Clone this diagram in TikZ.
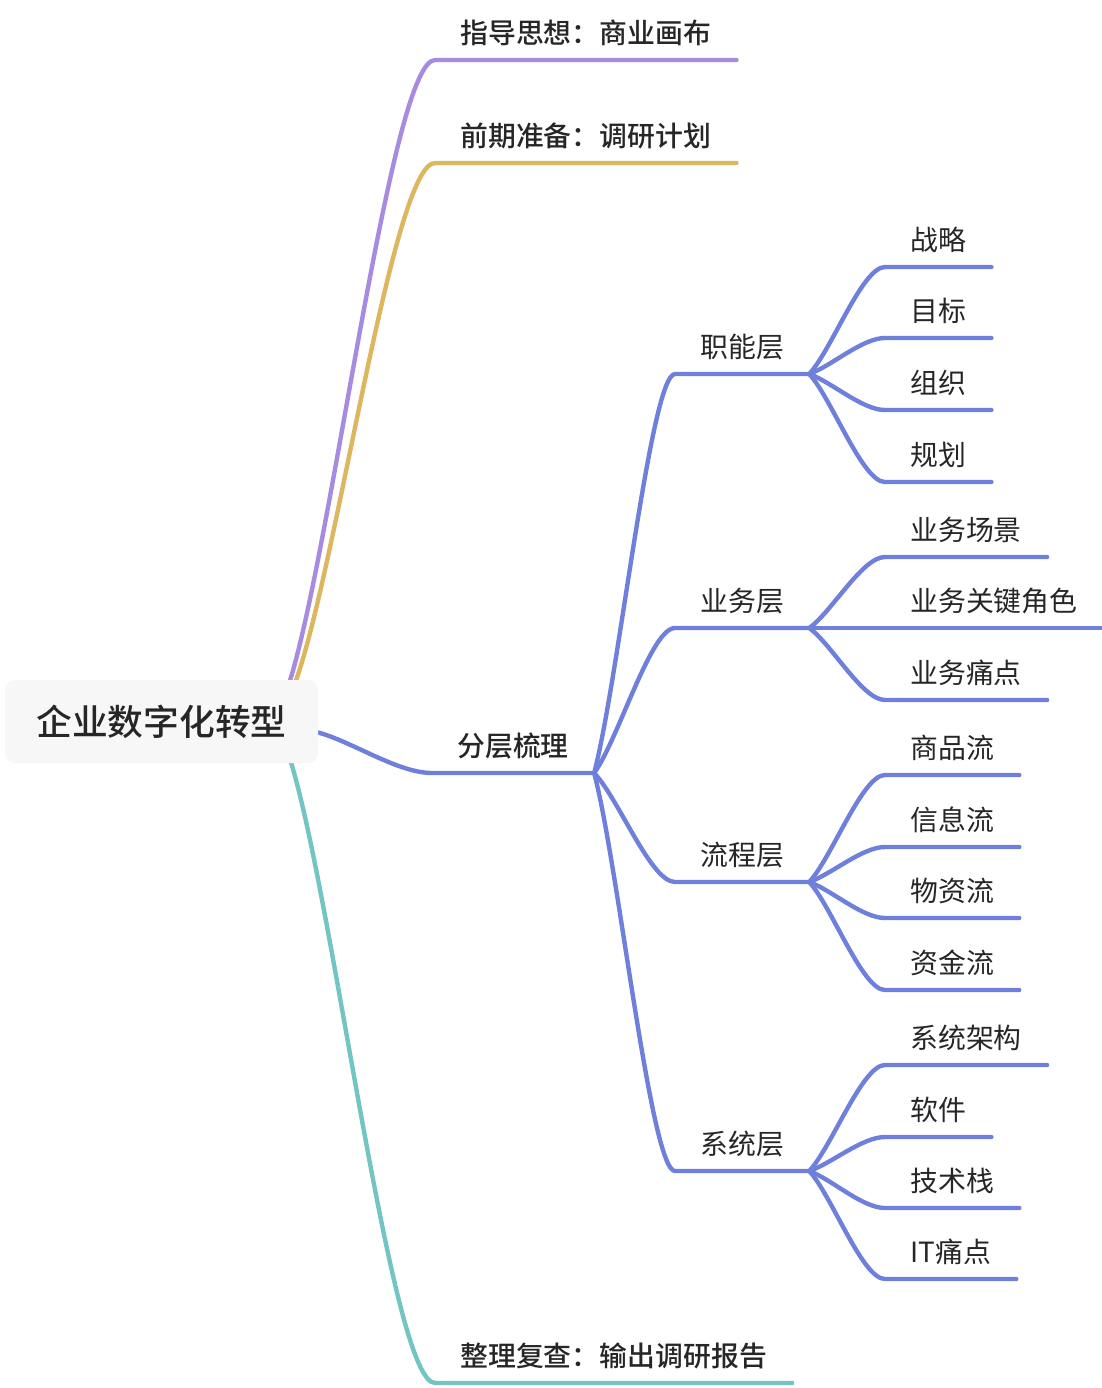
\documentclass[tikz,border=0pt]{standalone}
\usepackage{fontspec}
\setmainfont{Noto Sans CJK SC}
\newfontfamily\medfont{Noto Sans CJK SC Medium}
\usetikzlibrary{positioning}
\usetikzlibrary{calc}
\usetikzlibrary{backgrounds}
\definecolor{purp}{HTML}{A68BE0}
\definecolor{gold}{HTML}{DDB660}
\definecolor{teal2}{HTML}{72C5C2}
\definecolor{blu}{HTML}{6E80DC}
\definecolor{ink}{HTML}{262626}
\definecolor{rootbg}{HTML}{F7F7F7}
\tikzset{%
  br/.style = {line width=3.3pt,line cap=round,line join=round,
        to path={let \p1=(\tikztostart),\p2=(\tikztotarget) in
        .. controls ({\x1+0.3*(\x2-\x1)},{\y1+0.23*(\y2-\y1)})
        and ({\x2-0.3*(\x2-\x1)},\y2) .. (\tikztotarget)}},
  t/.style = {anchor=south west,inner xsep=19pt,inner ysep=12.5pt,
        outer sep=0pt,text depth=0pt,text=ink,
        font=\fontsize{20.9pt}{24pt}\selectfont},
  tb/.style = {t,font=\fontsize{20.9pt}{24pt}\selectfont\medfont},
  root/.style = {rectangle,fill=rootbg,rounded corners=7.5pt,
        minimum width=234.75pt,minimum height=62.25pt,text=ink,
        font=\fontsize{26.8pt}{30pt}\selectfont\medfont}
}

\begin{document}
\begin{tikzpicture}[x=0.75pt,y=-0.75pt]
\useasboundingbox (0,0) rectangle (1102,1388);
\node[root] (r) at (161.5,721.5) {企业数字化转型};

% first level
\node[tb] (z1) at (435,60) {指导思想：商业画布};
\node[tb] (z2) at (435,163) {前期准备：调研计划};
\node[tb] (z3) at (432,773) {分层梳理};
\node[tb] (z4) at (435,1383) {整理复查：输出调研报告};

% second level
\node[t] (m1) at (675,374) {职能层};
\node[t] (m2) at (675,628) {业务层};
\node[t] (m3) at (675,882) {流程层};
\node[t] (m4) at (675,1171) {系统层};

% leaves
\node[t] (l11) at (885,267) {战略};
\node[t] (l12) at (885,338) {目标};
\node[t] (l13) at (885,410) {组织};
\node[t] (l14) at (885,482) {规划};
\node[t] (l21) at (885,557) {业务场景};
\node[t] (l22) at (885,628) {业务关键角色};
\node[t] (l23) at (885,700) {业务痛点};
\node[t] (l31) at (885,775) {商品流};
\node[t] (l32) at (885,847) {信息流};
\node[t] (l33) at (885,918) {物资流};
\node[t] (l34) at (885,990) {资金流};
\node[t] (l41) at (885,1065) {系统架构};
\node[t] (l42) at (885,1137) {软件};
\node[t] (l43) at (885,1208) {技术栈};
\node[t] (l44) at (885,1279) {IT痛点};

\begin{scope}[on background layer]
\coordinate (s1) at ($(r.north east)+(-28,0)$);
\coordinate (s2) at ($(r.north east)+(-22,0)$);
\coordinate (s3) at ($(r.east)+(0,11)$);
\coordinate (s4) at ($(r.south east)+(-27,0)$);
\draw[br,purp] (s1) to (z1.south west) -- (z1.south east);
\draw[br,gold] (s2) to (z2.south west) -- (z2.south east);
\draw[br,blu] (s3) to (z3.south west) -- (z3.south east);
\draw[br,teal2] (s4) to (z4.south west) -- (z4.south east);
\end{scope}

\foreach \m in {1,...,4}
  \draw[br,blu] (z3.south east) to (m\m.south west) -- (m\m.south east);
\foreach \l in {1,...,4}
  \draw[br,blu] (m1.south east) to (l1\l.south west) -- (l1\l.south east);
\foreach \l in {1,...,3}
  \draw[br,blu] (m2.south east) to (l2\l.south west) -- (l2\l.south east);
\foreach \l in {1,...,4}
  \draw[br,blu] (m3.south east) to (l3\l.south west) -- (l3\l.south east);
\foreach \l in {1,...,4}
  \draw[br,blu] (m4.south east) to (l4\l.south west) -- (l4\l.south east);
\end{tikzpicture}
\end{document}
